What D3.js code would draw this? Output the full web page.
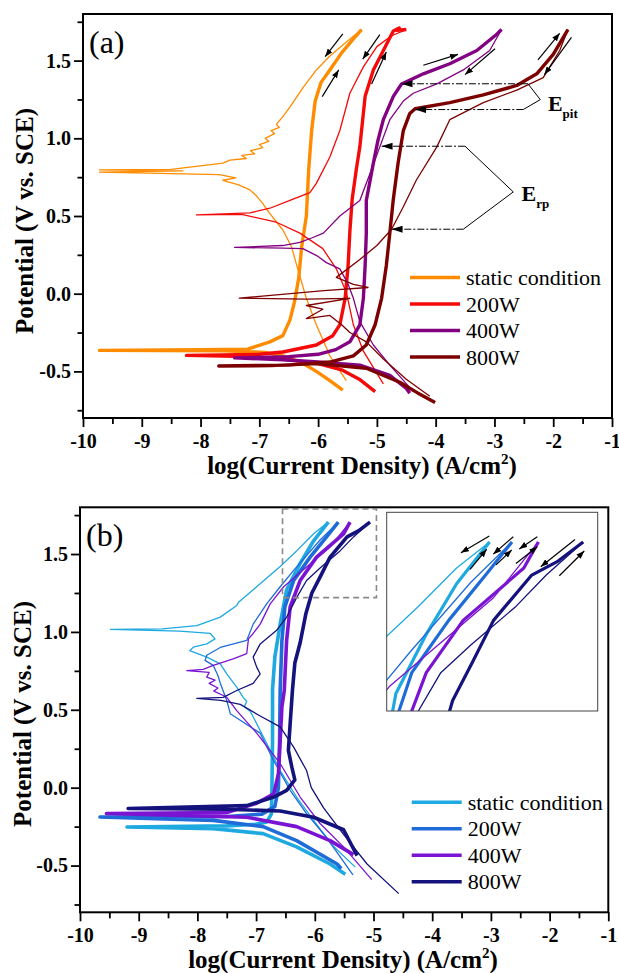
<!DOCTYPE html>
<html>
<head>
<meta charset="utf-8">
<script src="https://d3js.org/d3.v7.min.js"></script>
<style>
  body { margin: 0; background: #fff; }
  svg { display: block; font-family: "Liberation Serif", "Times New Roman", serif; }
  .axis text { font-family: "Liberation Serif", "Times New Roman", serif; font-weight: bold; font-size: 20px; fill: #000; }
  .axis line { stroke: #000; stroke-width: 1.8px; }
</style>
</head>
<body>
<div id="chart"></div>
<script>

// ---- data : [log(i) in A/cm2, E in V vs. SCE] ----
var seriesNames = ["static condition", "200W", "400W", "800W"];
var colorsA = ["#ff8c00", "#f50a0a", "#820282", "#7d0000"];
var colorsB = ["#1ea9e1", "#1f6bd8", "#7a14d2", "#14127c"];

var xTicks = [-10, -9, -8, -7, -6, -5, -4, -3, -2, -1];
var yTicks = [-0.5, 0.0, 0.5, 1.0, 1.5];
var yMinor = [-0.75, -0.25, 0.25, 0.75, 1.25, 1.75];
var xDomain = [-10, -1];
var yDomain = [-0.8, 1.8];

// (a) forward scans (thick) and reverse scans (thin)
var staticFwdA = [[-5.58,-0.62],[-5.8,-0.56],[-6.03,-0.50],[-6.3,-0.44],[-6.6,-0.40],[-6.9,-0.378],[-7.6,-0.367],[-9.72,-0.365],
  [-8.0,-0.36],[-7.2,-0.357],[-6.82,-0.31],[-6.6,-0.27],[-6.48,-0.17],[-6.4,-0.05],[-6.33,0.1],[-6.28,0.3],[-6.2,0.5],
  [-6.16,0.8],[-6.11,1.05],[-6.05,1.24],[-5.95,1.36],[-5.8,1.44],[-5.6,1.55],[-5.4,1.64],[-5.26,1.70]];
var staticRevA = [[-5.26,1.70],[-5.55,1.61],[-5.8,1.53],[-6.03,1.44],[-6.25,1.33],[-6.48,1.20],[-6.6,1.14],[-6.71,1.09],
  [-6.66,1.07],[-6.8,1.05],[-6.74,1.03],[-6.9,1.0],[-6.84,0.98],[-7.0,0.96],[-6.94,0.94],[-7.15,0.92],[-7.08,0.90],
  [-7.3,0.89],[-7.22,0.87],[-7.5,0.86],[-7.62,0.84],[-8.5,0.80],[-9.72,0.797],[-8.3,0.79],[-9.72,0.783],[-7.68,0.766],
  [-7.4,0.745],[-7.62,0.73],[-7.35,0.70],[-7.17,0.67],[-7.05,0.63],[-6.94,0.58],[-6.83,0.52],[-6.6,0.41],[-6.45,0.3],
  [-6.37,0.19],[-6.2,-0.03],[-6.03,-0.2],[-5.8,-0.4],[-5.52,-0.56]];

var w200FwdA = [[-5.03,-0.63],[-5.3,-0.55],[-5.6,-0.49],[-6.0,-0.45],[-6.6,-0.42],[-7.2,-0.405],[-8.24,-0.397],
  [-7.0,-0.39],[-6.6,-0.375],[-6.03,-0.33],[-5.75,-0.27],[-5.63,-0.2],[-5.54,-0.03],[-5.49,0.18],[-5.46,0.40],
  [-5.42,0.61],[-5.35,0.80],[-5.29,0.945],[-5.2,1.27],[-5.06,1.44],[-4.89,1.565],[-4.72,1.69],[-4.62,1.71],
  [-4.66,1.695],[-4.5,1.70]];
var w200RevA = [[-4.5,1.70],[-4.75,1.66],[-5.0,1.59],[-5.23,1.46],[-5.46,1.29],[-5.63,1.05],[-5.8,0.88],[-6.03,0.71],
  [-6.14,0.65],[-6.48,0.60],[-6.82,0.55],[-7.16,0.52],[-8.07,0.507],[-7.3,0.51],[-6.71,0.46],[-6.31,0.39],[-5.92,0.29],
  [-5.69,0.16],[-5.52,0.01],[-5.4,-0.2],[-5.23,-0.37],[-4.89,-0.58]];

var w400FwdA = [[-4.44,-0.64],[-4.5,-0.61],[-4.78,-0.525],[-5.29,-0.46],[-6.0,-0.44],[-6.6,-0.425],[-7.42,-0.413],
  [-6.5,-0.405],[-6.0,-0.39],[-5.7,-0.36],[-5.46,-0.31],[-5.29,-0.2],[-5.23,-0.03],[-5.2,0.18],[-5.18,0.39],
  [-5.18,0.60],[-5.06,0.84],[-4.98,0.99],[-4.89,1.12],[-4.72,1.27],[-4.58,1.35],[-4.21,1.415],[-3.76,1.48],
  [-3.3,1.565],[-2.96,1.67],[-2.88,1.70]];
var w400RevA = [[-2.88,1.70],[-3.08,1.565],[-3.53,1.44],[-3.98,1.35],[-4.38,1.29],[-4.55,1.24],[-4.78,1.12],
  [-4.95,0.945],[-5.12,0.77],[-5.29,0.60],[-5.46,0.55],[-5.63,0.50],[-5.91,0.39],[-6.1,0.36],[-6.31,0.33],
  [-6.6,0.31],[-7.42,0.298],[-6.6,0.293],[-6.26,0.29],[-6.0,0.24],[-5.86,0.20],[-5.63,0.16],[-5.5,0.07],
  [-5.4,-0.03],[-5.29,-0.18],[-5.06,-0.33],[-4.78,-0.46],[-4.38,-0.63]];

var w800FwdA = [[-4.01,-0.70],[-4.3,-0.64],[-4.61,-0.57],[-5.18,-0.48],[-6.03,-0.45],[-6.8,-0.463],[-7.69,-0.465],
  [-6.5,-0.46],[-5.8,-0.44],[-5.4,-0.40],[-5.18,-0.33],[-5.03,-0.2],[-4.92,-0.03],[-4.84,0.18],[-4.78,0.39],
  [-4.72,0.61],[-4.64,0.84],[-4.55,1.05],[-4.44,1.16],[-4.35,1.19],[-3.76,1.23],[-3.19,1.28],[-2.62,1.34],
  [-2.28,1.415],[-2.0,1.54],[-1.75,1.70]];
var w800RevA = [[-1.75,1.70],[-1.89,1.565],[-2.17,1.39],[-2.62,1.31],[-3.19,1.23],[-3.76,1.12],[-3.98,0.945],
  [-4.33,0.73],[-4.55,0.56],[-4.75,0.415],[-5.0,0.31],[-5.29,0.22],[-5.69,0.105],[-5.4,0.06],[-5.15,0.04],
  [-5.9,0.02],[-7.34,-0.029],[-6.2,-0.035],[-5.46,-0.03],[-6.2,-0.076],[-5.92,-0.10],[-6.2,-0.16],[-5.8,-0.14],
  [-5.6,-0.2],[-5.46,-0.25],[-5.18,-0.31],[-4.89,-0.42],[-4.5,-0.55],[-4.1,-0.66]];

// (b)
var staticFwdB = [[-5.48,-0.555],[-5.74,-0.49],[-6.31,-0.38],[-6.88,-0.295],[-7.73,-0.263],[-9.2,-0.252],
  [-7.5,-0.245],[-7.0,-0.235],[-6.82,-0.22],[-6.74,-0.17],[-6.73,0.0],[-6.72,0.3],[-6.72,0.63],[-6.68,0.84],
  [-6.59,1.05],[-6.48,1.27],[-6.25,1.44],[-6.02,1.585],[-5.77,1.705]];
var staticRevB = [[-5.77,1.705],[-6.02,1.63],[-6.31,1.52],[-6.59,1.42],[-6.99,1.29],[-7.3,1.19],[-7.33,1.17],
  [-7.61,1.095],[-8.01,1.04],[-8.6,1.02],[-9.48,1.016],[-8.3,1.005],[-7.78,0.99],[-7.7,0.955],[-7.84,0.923],
  [-8.07,0.902],[-8.13,0.88],[-7.84,0.838],[-7.61,0.795],[-7.5,0.73],[-7.33,0.645],[-7.22,0.58],[-7.16,0.555],
  [-7.2,0.52],[-7.1,0.49],[-7.05,0.455],[-6.82,0.285],[-6.59,0.11],[-6.31,-0.06],[-6.02,-0.21],[-5.7,-0.37],
  [-5.31,-0.51]];

var w200FwdB = [[-5.55,-0.52],[-5.62,-0.49],[-6.31,-0.34],[-6.88,-0.25],[-7.73,-0.21],[-9.66,-0.188],[-7.5,-0.185],
  [-6.9,-0.17],[-6.68,-0.12],[-6.62,0.0],[-6.6,0.3],[-6.59,0.624],[-6.56,0.945],[-6.51,1.16],[-6.36,1.33],
  [-6.08,1.48],[-5.8,1.61],[-5.6,1.705]];
var w200RevB = [[-5.6,1.705],[-5.91,1.59],[-6.36,1.395],[-6.59,1.29],[-6.82,1.18],[-7.05,1.05],[-7.16,0.945],
  [-7.27,0.934],[-7.61,0.90],[-7.84,0.85],[-7.87,0.817],[-7.73,0.785],[-7.65,0.72],[-7.61,0.67],[-7.5,0.56],
  [-7.44,0.475],[-6.93,0.35],[-6.71,0.18],[-6.42,-0.017],[-6.14,-0.167],[-5.8,-0.32],[-5.35,-0.56]];

var w400FwdB = [[-5.34,-0.43],[-5.74,-0.34],[-6.31,-0.25],[-7.16,-0.19],[-9.55,-0.166],[-7.5,-0.16],[-6.99,-0.10],
  [-6.7,-0.04],[-6.62,0.09],[-6.59,0.30],[-6.56,0.52],[-6.52,0.624],[-6.48,0.945],[-6.42,1.16],[-6.25,1.33],
  [-5.97,1.48],[-5.51,1.63],[-5.4,1.705]];
var w400RevB = [[-5.4,1.705],[-5.74,1.545],[-6.14,1.416],[-6.53,1.29],[-6.76,1.18],[-6.93,1.05],[-7.05,0.99],
  [-7.13,0.955],[-7.16,0.86],[-7.39,0.827],[-7.73,0.785],[-7.9,0.76],[-8.18,0.752],[-7.8,0.74],[-7.84,0.71],
  [-7.7,0.69],[-7.8,0.67],[-7.65,0.64],[-7.72,0.62],[-7.55,0.59],[-7.5,0.58],[-7.33,0.495],[-6.99,0.35],
  [-6.59,0.155],[-6.25,-0.06],[-5.91,-0.23],[-5.51,-0.38],[-5.03,-0.59]];

var w800FwdB = [[-5.28,-0.436],[-5.51,-0.27],[-6.02,-0.19],[-6.59,-0.15],[-7.5,-0.138],[-9.18,-0.134],
  [-7.16,-0.115],[-6.7,-0.06],[-6.48,-0.017],[-6.34,0.05],[-6.39,0.13],[-6.45,0.24],[-6.42,0.41],[-6.38,0.63],
  [-6.34,0.8],[-6.25,0.93],[-6.15,1.12],[-6.05,1.25],[-5.9,1.36],[-5.74,1.48],[-5.45,1.61],[-5.25,1.65],[-5.06,1.705]];
var w800RevB = [[-5.06,1.705],[-5.34,1.61],[-5.57,1.52],[-5.91,1.41],[-6.14,1.33],[-6.31,1.22],[-6.48,1.095],
  [-6.65,1.01],[-6.93,0.923],[-7.05,0.838],[-6.99,0.774],[-6.93,0.73],[-7.05,0.67],[-7.33,0.624],[-7.56,0.58],
  [-8.01,0.573],[-7.6,0.56],[-7.27,0.535],[-6.93,0.46],[-6.59,0.39],[-6.36,0.26],[-6.14,0.11],[-6.06,0.0],
  [-5.85,-0.13],[-5.51,-0.30],[-5.11,-0.49],[-4.57,-0.68]];

// scan direction arrows [x1, y1, x2, y2] (tail -> head)
var scanArrowsA = [[-5.58,1.672,-5.88,1.525],[-5.93,1.268,-5.65,1.44],[-4.95,1.667,-5.24,1.51],[-5.09,1.35,-4.84,1.555],
  [-4.21,1.47,-3.62,1.54],[-2.99,1.576,-3.50,1.41],[-2.26,1.505,-1.89,1.676],[-1.69,1.65,-2.15,1.41]];
var scanArrowsB = [[-5.772,1.722,-5.987,1.674],[-5.918,1.626,-5.792,1.684],[-5.59,1.72,-5.742,1.67],[-5.721,1.639,-5.602,1.682],
  [-5.408,1.72,-5.545,1.685],[-5.57,1.643,-5.408,1.691],[-5.122,1.712,-5.382,1.634],[-5.241,1.608,-5.052,1.679]];

// E_pit / E_rp markers in (a)
var leaderLines = [[[-2.43,1.351],[-4.58,1.351]], [[-2.51,1.185],[-4.35,1.185]], [[-3.50,0.949],[-4.92,0.949]], [[-3.53,0.415],[-4.75,0.415]]];
var brackets = [[[-2.43,1.351],[-2.22,1.249],[-2.51,1.185]], [[-3.50,0.949],[-2.68,0.655],[-3.53,0.415]]];
var bracketLabels = [{main: "E", sub: "pit", at: [-2.09,1.178]}, {main: "E", sub: "rp", at: [-2.54,0.595]}];

// zoomed window of (b)
var insetX = [-6.55, -4.95];
var insetY = [1.22, 1.79];

var seriesA = [[staticFwdA, staticRevA], [w200FwdA, w200RevA], [w400FwdA, w400RevA], [w800FwdA, w800RevA]];
var seriesB = [[staticFwdB, staticRevB], [w200FwdB, w200RevB], [w400FwdB, w400RevB], [w800FwdB, w800RevB]];

var svg = d3.select("#chart").append("svg").attr("width", 619).attr("height", 973);
var defs = svg.append("defs");

function addMarker(id, len, wid) {
	defs.append("marker")
		.attr("id", id)
		.attr("viewBox", "0 0 " + len + " " + wid)
		.attr("refX", len).attr("refY", wid / 2)
		.attr("markerWidth", len).attr("markerHeight", wid)
		.attr("markerUnits", "userSpaceOnUse")
		.attr("orient", "auto")
		.append("path")
		.attr("d", "M0,0L" + len + "," + (wid / 2) + "L0," + wid + "z")
		.attr("fill", "#000");
}
addMarker("scanHead", 8, 6);
addMarker("leadHead", 11, 7);

function drawCurves(g, x, y, series, colors, thick) {
	var line = d3.line().x(function(d) { return x(d[0]); }).y(function(d) { return y(d[1]); });
	series.forEach(function(s, i) {
		g.append("path").datum(s[1]).attr("d", line)
			.attr("fill", "none").attr("stroke", colors[i]).attr("stroke-width", 1.3)
			.attr("stroke-linejoin", "round");
		g.append("path").datum(s[0]).attr("d", line)
			.attr("fill", "none").attr("stroke", colors[i]).attr("stroke-width", thick)
			.attr("stroke-linejoin", "round");
	});
}

function drawScanArrows(g, x, y, arrows) {
	g.selectAll(null).data(arrows).enter().append("line")
		.attr("x1", function(d) { return x(d[0]); }).attr("y1", function(d) { return y(d[1]); })
		.attr("x2", function(d) { return x(d[2]); }).attr("y2", function(d) { return y(d[3]); })
		.attr("stroke", "#000").attr("stroke-width", 1.2)
		.attr("marker-end", "url(#scanHead)");
}

function drawPanel(cfg) {
	var g = svg.append("g").attr("transform", "translate(" + cfg.left + "," + cfg.top + ")");
	var x = d3.scaleLinear().domain(xDomain).range([0, cfg.width]);
	var y = d3.scaleLinear().domain(yDomain).range([cfg.height, 0]);

	defs.append("clipPath").attr("id", cfg.id + "Clip")
		.append("rect").attr("width", cfg.width).attr("height", cfg.height);

	// axes: major + minor ticks pointing out
	var xMinor = xTicks.slice(1).map(function(v) { return v - 0.5; });
	g.append("g").attr("class", "axis").attr("transform", "translate(0," + cfg.height + ")")
		.call(d3.axisBottom(x).tickValues(xMinor).tickSize(6).tickSizeOuter(0).tickFormat(""));
	g.append("g").attr("class", "axis").attr("transform", "translate(0," + cfg.height + ")")
		.call(d3.axisBottom(x).tickValues(xTicks).tickSize(9).tickSizeOuter(0).tickPadding(7)
			.tickFormat(function(d) { return String(d); }));
	g.append("g").attr("class", "axis")
		.call(d3.axisLeft(y).tickValues(yMinor).tickSize(5.5).tickSizeOuter(0).tickFormat(""));
	g.append("g").attr("class", "axis")
		.call(d3.axisLeft(y).tickValues(yTicks).tickSize(9).tickSizeOuter(0).tickPadding(3)
			.tickFormat(function(d) { return d.toFixed(1); }));
	g.selectAll(".domain").remove();

	var plot = g.append("g").attr("clip-path", "url(#" + cfg.id + "Clip)");
	drawCurves(plot, x, y, cfg.series, cfg.colors, cfg.thick);

	g.append("rect").attr("width", cfg.width).attr("height", cfg.height)
		.attr("fill", "none").attr("stroke", "#000").attr("stroke-width", 2);

	// panel letter
	g.append("text").attr("x", 6).attr("y", cfg.letterY).attr("font-size", 32).text(cfg.letter);

	// axis titles
	svg.append("text")
		.attr("transform", "translate(" + cfg.yTitleX + "," + cfg.yTitleY + ") rotate(-90)")
		.attr("text-anchor", "middle").attr("font-weight", "bold").attr("font-size", 25)
		.text("Potential (V vs. SCE)");
	var xt = svg.append("text").attr("x", cfg.xTitleX).attr("y", cfg.xTitleY)
		.attr("text-anchor", "middle").attr("font-weight", "bold").attr("font-size", 25);
	xt.append("tspan").text("log(Current Density) (A/cm");
	xt.append("tspan").attr("font-size", 15).attr("dy", -10).text("2");
	xt.append("tspan").attr("dy", 10).text(")");

	// legend
	var lg = svg.append("g").attr("transform", "translate(" + cfg.legendX + "," + cfg.legendY + ")");
	seriesNames.forEach(function(name, i) {
		lg.append("line").attr("x1", 0).attr("x2", 50).attr("y1", i * 26.5).attr("y2", i * 26.5)
			.attr("stroke", cfg.colors[i]).attr("stroke-width", 3.5);
		lg.append("text").attr("x", 56).attr("y", i * 26.5 + 7.5).attr("font-size", 22).text(name);
	});

	return {g: g, x: x, y: y};
}

// ----- panel (a) -----
var pa = drawPanel({id: "pa", left: 83, top: 14, width: 529, height: 404, series: seriesA, colors: colorsA, thick: 3.4,
	letter: "(a)", letterY: 39, yTitleX: 33, yTitleY: 221, xTitleX: 362, xTitleY: 474, legendX: 410, legendY: 277.5});

drawScanArrows(pa.g, pa.x, pa.y, scanArrowsA);

var lineA = d3.line().x(function(d) { return pa.x(d[0]); }).y(function(d) { return pa.y(d[1]); });
pa.g.selectAll(null).data(leaderLines).enter().append("path")
	.attr("d", lineA).attr("fill", "none").attr("stroke", "#000").attr("stroke-width", 1)
	.attr("stroke-dasharray", "7,2,2,2").attr("marker-end", "url(#leadHead)");
pa.g.selectAll(null).data(brackets).enter().append("path")
	.attr("d", lineA).attr("fill", "none").attr("stroke", "#000").attr("stroke-width", 1);
bracketLabels.forEach(function(b) {
	var t = pa.g.append("text").attr("x", pa.x(b.at[0])).attr("y", pa.y(b.at[1]))
		.attr("font-weight", "bold").attr("font-size", 22);
	t.append("tspan").text(b.main);
	t.append("tspan").attr("font-size", 13).attr("dy", 7).text(b.sub);
});

// ----- panel (b) -----
var pb = drawPanel({id: "pb", left: 80, top: 507.3, width: 528.3, height: 405, series: seriesB, colors: colorsB, thick: 3.6,
	letter: "(b)", letterY: 39, yTitleX: 31, yTitleY: 714, xTitleX: 343, xTitleY: 968, legendX: 411.7, legendY: 802.3});

// dashed window and magnified inset
pb.g.append("rect")
	.attr("x", pb.x(insetX[0])).attr("y", pb.y(insetY[1]))
	.attr("width", pb.x(insetX[1]) - pb.x(insetX[0])).attr("height", pb.y(insetY[0]) - pb.y(insetY[1]))
	.attr("fill", "none").attr("stroke", "#8a8a8a").attr("stroke-width", 1.6).attr("stroke-dasharray", "6,4");

var inset = svg.append("g").attr("transform", "translate(386.7,512.3)");
var ix = d3.scaleLinear().domain(insetX).range([0, 211]);
var iy = d3.scaleLinear().domain(insetY).range([198.7, 0]);
defs.append("clipPath").attr("id", "insetClip").append("rect").attr("width", 211).attr("height", 198.7);
inset.append("rect").attr("width", 211).attr("height", 198.7).attr("fill", "#fff");
var ip = inset.append("g").attr("clip-path", "url(#insetClip)");
drawCurves(ip, ix, iy, seriesB, colorsB, 3.2);
drawScanArrows(inset, ix, iy, scanArrowsB);
inset.append("rect").attr("width", 211).attr("height", 198.7)
	.attr("fill", "none").attr("stroke", "#444").attr("stroke-width", 1);

</script>
</body>
</html>
